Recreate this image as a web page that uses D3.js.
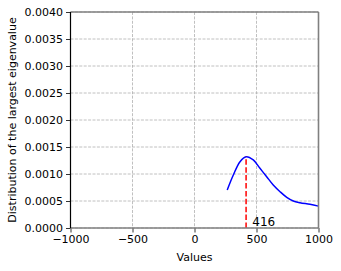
<!DOCTYPE html>
<html>
<head>
<meta charset="utf-8">
<script src="https://cdn.jsdelivr.net/npm/d3@7"></script>
<style>
  body { margin: 0; background: #fff; }
  svg { font-family: "DejaVu Sans", sans-serif; }
</style>
</head>
<body>
<svg id="chart" width="341" height="271"></svg>
<script>
// curve
const xs = [264, 313, 367, 416, 474, 528, 582, 635, 690, 744, 797, 851, 931, 1000];
const ys = [0.000704, 0.000981, 0.001228, 0.00132, 0.00126, 0.001105, 0.00095, 0.000796, 0.000672, 0.000568, 0.0005, 0.000469, 0.000439, 0.000405];
const peakX = 416;
const peakY = 0.00132;
const xTicks = [-1000, -500, 0, 500, 1000];
const yTicks = [0, 0.0005, 0.001, 0.0015, 0.002, 0.0025, 0.003, 0.0035, 0.004];

const svg = d3.select('#chart');
const margin = { top: 12, right: 22.5, bottom: 43, left: 70.5 };
const width = 341 - margin.left - margin.right;
const height = 271 - margin.top - margin.bottom;

const x = d3.scaleLinear().domain([-1000, 1000]).range([0, width]);
const y = d3.scaleLinear().domain([0, 0.004]).range([height, 0]);

const g = svg.append('g').attr('transform', `translate(${margin.left},${margin.top})`);

// grid
g.selectAll('.gx').data(xTicks).enter().append('line')
  .attr('x1', d => x(d)).attr('x2', d => x(d))
  .attr('y1', 0).attr('y2', height)
  .attr('stroke', '#b0b0b0').attr('stroke-width', 0.8).attr('stroke-dasharray', '3,1.4');
g.selectAll('.gy').data(yTicks).enter().append('line')
  .attr('x1', 0).attr('x2', width)
  .attr('y1', d => y(d)).attr('y2', d => y(d))
  .attr('stroke', '#b0b0b0').attr('stroke-width', 0.8).attr('stroke-dasharray', '3,1.4');

// axes
const fmtX = d => d < 0 ? '\u2212' + Math.abs(d) : String(d);
const xAxis = d3.axisBottom(x).tickValues(xTicks).tickFormat(fmtX).tickSizeOuter(0).tickSize(4.5).tickPadding(3);
const yAxis = d3.axisLeft(y).tickValues(yTicks).tickFormat(d3.format('.4f')).tickSizeOuter(0).tickSize(4.5).tickPadding(3);

const gx = g.append('g').attr('transform', `translate(0,${height})`).call(xAxis);
const gy = g.append('g').call(yAxis);
[gx, gy].forEach(a => {
  a.select('.domain').remove();
  a.selectAll('text').attr('font-size', 11).attr('fill', '#000').attr('font-family', '"DejaVu Sans", sans-serif');
  a.selectAll('line').attr('stroke', '#000').attr('stroke-width', 0.8);
});

// curve
const line = d3.line().x((d, i) => x(xs[i])).y(d => y(d)).curve(d3.curveCatmullRom);
g.append('path').datum(ys).attr('d', line)
  .attr('fill', 'none').attr('stroke', '#0000ff').attr('stroke-width', 1.5);

// peak marker
g.append('line')
  .attr('x1', x(peakX)).attr('x2', x(peakX))
  .attr('y1', y(0)).attr('y2', y(peakY))
  .attr('stroke', '#ff0000').attr('stroke-width', 1.5).attr('stroke-dasharray', '5.5,2.4');
g.append('text').attr('x', x(peakX + 50)).attr('y', y(0) - 2)
  .attr('font-size', 12).text(peakX);

// spines
g.append('line').attr('x1', 0).attr('x2', width).attr('y1', 0).attr('y2', 0).attr('stroke', '#808080').attr('stroke-width', 1.6);
g.append('line').attr('x1', width).attr('x2', width).attr('y1', 0).attr('y2', height).attr('stroke', '#808080').attr('stroke-width', 1.6);
g.append('line').attr('x1', 0).attr('x2', width).attr('y1', height).attr('y2', height).attr('stroke', '#808080').attr('stroke-width', 1.6);
g.append('line').attr('x1', 0).attr('x2', 0).attr('y1', 0).attr('y2', height).attr('stroke', '#000').attr('stroke-width', 1.2);

// labels
svg.append('text').attr('x', margin.left + width / 2).attr('y', 261)
  .attr('text-anchor', 'middle').attr('font-size', 11).text('Values');
svg.append('text').attr('transform', `translate(16,${margin.top + height / 2}) rotate(-90)`)
  .attr('text-anchor', 'middle').attr('font-size', 11).text('Distribution of the largest eigenvalue');
</script>
</body>
</html>
